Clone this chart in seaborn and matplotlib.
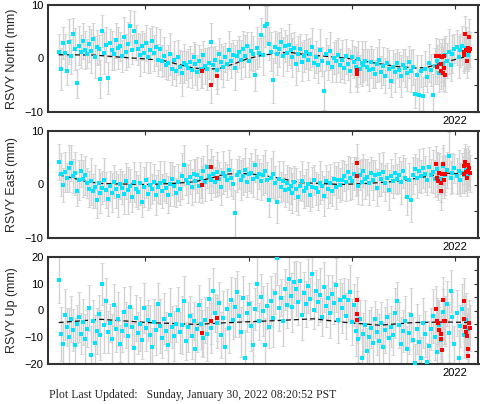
import numpy as np
import pandas as pd
import matplotlib
matplotlib.use("Agg")
import matplotlib.pyplot as plt
import seaborn as sns

# weekly solutions for station RSVY
dates = pd.date_range("2018-03-01", periods=208, freq="7D")

north = [1.2, -1.9, 2.9, 1.0, -2.3, 3.1, 0.4, 4.6, 1.8, -4.6, 2.4, 1.3, 3.3,
         1.6, 0.9, 2.7, 1.4, 3.6, 0.3, 2.1, 1.7, -3.8, 5.2, 1.0, 2.6, -3.6,
         2.9, 1.5, 0.8, 3.4, 1.9, 2.3, 0.5, 4.1, 1.2, 2.7, 6.1, 1.6, 5.2,
         3.0, 1.8, 0.6, 2.4, 1.1, 2.9, 0.2, 1.5, 3.3, 1.0, 2.2, -0.3, 1.7,
         -0.5, 0.4, -1.2, -0.8, 0.9, -1.9, -0.3, -2.4, 0.2, -1.5, -2.8, -0.9, -1.3,
         -1.8, -0.6, -2.2, 0.3, -1.1, -2.6, -0.4, -1.9, 0.6, -1.4, -2.0, -0.8, 3.0,
         -1.2, -0.3, -2.1, 0.8, -0.6, -1.5, 0.2, -1.0, 1.6, -0.4, 0.7, -1.7, 0.4,
         1.2, -0.2, 1.8, 0.5, 2.3, -0.5, 1.4, 0.9, -3.1, 2.0, 1.1, 4.3, 0.6,
         6.0, 6.5, 2.8, 1.3, -4.1, 2.1, 0.8, 1.7, 3.0, 0.4, 2.4, 1.0, 2.6,
         1.5, 0.2, 2.0, -1.1, 0.9, 1.8, -0.6, 0.5, 1.3, -0.2, 0.8, 2.1, -0.9,
         0.3, -1.2, 1.6, -0.5, -6.0, 0.9, -0.8, 1.4, -1.6, 0.1, -0.4, 0.6, -1.3,
         -0.2, -1.8, 0.4, -1.0, -2.4, 0.2, -0.7, -1.5, -0.1, -2.0, -0.9, -1.3, -0.4,
         -1.6, -2.2, -0.6, -1.9, -2.9, -1.1, -0.3, -2.5, -1.4, -3.2, -0.8, -2.0, -4.2,
         -1.5, -2.6, -0.9, -2.1, -3.3, -1.2, -1.8, -2.8, -0.7, -2.3, -1.6, -6.6, -3.0,
         -6.8, -2.4, -7.0, -1.9, -3.5, -0.8, -2.2, -6.8, -1.4, -0.5, -2.7, 0.2, -1.1,
         0.6, -0.4, 1.3, -1.2, 0.8, 1.8, 2.1, 0.3, 1.5, 2.4, 1.0, 1.9, 0.7]

east = [4.2, 1.9, -0.1, 2.4, 1.3, 3.0, 4.0, 1.6, 2.1, -1.3, 0.8, 2.6, 1.1,
        1.7, 0.3, -0.8, 0.6, -1.2, -0.4, -2.9, 0.2, -1.6, -0.6, 0.9, -1.0, -2.8,
        -0.3, -1.5, 0.5, -0.9, -2.1, 0.1, -0.6, -1.8, 0.7, -1.1, -0.2, -2.3, 0.4,
        -0.8, -1.4, 0.2, -3.2, -0.5, 0.8, -1.7, -0.1, -0.9, 0.5, -2.0, -0.4, 0.3,
        -1.2, 0.6, -0.7, -1.9, 0.1, 1.1, -0.3, -1.5, 0.4, -0.8, 1.6, 3.6, 0.9,
        0.2, 1.4, -0.5, 2.0, 0.7, 1.8, -0.2, 1.2, 2.5, 0.4, 3.3, 1.6, 0.9,
        1.9, 0.5, 2.4, 1.1, -0.4, 2.2, 1.5, 0.8, 2.8, 1.3, 0.1, -5.4, 1.7,
        2.3, 0.9, 1.5, 2.7, 0.4, 1.9, 2.2, 1.0, 3.6, 1.4, 2.0, 0.6, 1.8,
        2.5, 0.8, -2.9, 1.2, 1.9, 0.3, -3.2, 1.0, -0.5, 0.6, -1.1, 0.2, -0.8,
        -0.3, -1.6, 0.4, -0.9, -2.3, -0.2, 0.7, -1.3, -0.6, 0.1, -1.9, -0.4, 0.9,
        -0.7, -1.4, 0.3, -0.2, -2.2, 0.6, -0.9, 0.2, -1.2, 1.1, -0.5, 0.8, -0.1,
        0.9, 1.6, 0.4, 2.3, 1.2, 0.7, 2.0, 1.5, -0.3, 1.8, 0.5, 2.6, 1.1,
        1.4, 0.2, 2.1, 0.8, 1.7, -0.6, 1.9, 1.0, 2.4, 0.3, 1.3, -1.1, 1.6,
        0.6, 2.2, 1.1, 1.8, 0.4, 2.5, 1.3, -2.3, 0.9, -2.9, 1.7, 2.9, 1.2,
        2.6, 1.5, 3.1, 2.0, 0.8, 3.3, 1.7, 2.4, 1.1, 2.9, 2.2, 1.0, 3.4,
        1.8, 2.7, 5.4, 1.3, 2.1, 3.0, 1.6, 2.5, 0.9, 2.2, 1.8, 2.8, 2.0]

up = [11.3, -8.9, -12.6, -1.5, -6.2, -9.8, -3.1, -7.4, -13.0, -5.0, -2.4, -8.6, -4.3,
      -10.5, -6.8, 0.8, -16.8, -3.9, -12.0, -7.5, -1.2, -9.3, 9.8, -5.6, 3.4, -8.1,
      -4.6, -10.8, 2.1, -6.9, -3.2, -12.4, -7.8, -0.5, -5.3, -9.6, 1.4, -6.0, -14.1,
      -2.8, -8.4, -5.1, -11.2, 0.9, -6.6, -3.7, -9.0, -13.6, -4.4, -7.2, 2.6, -5.8,
      -10.1, -3.0, -7.7, -12.9, -1.8, -6.3, -9.4, -4.9, 0.3, -8.2, -5.5, 3.5, -11.5,
      -6.1, -2.2, -9.7, -4.0, -14.4, -7.0, 1.9, -5.2, -10.3, -3.4, -8.8, 4.2, -6.7,
      7.3, -1.0, -4.8, 2.8, -9.1, -2.9, -13.5, 0.4, -6.4, 3.9, -3.6, 1.2, 7.0,
      -2.0, -7.9, 4.5, -17.6, -1.1, 2.3, -5.9, -12.8, 0.6, 10.0, -4.1, 5.1, -0.3,
      -13.0, 1.8, -6.2, 3.6, -2.7, 6.4, 19.8, 0.9, 4.8, -3.8, 7.9, 2.2, 11.6,
      5.4, 1.3, 10.5, 8.2, 3.0, 11.0, -1.6, 6.7, 2.4, 9.1, 4.3, 13.5, 0.2,
      7.4, 3.1, 5.8, -2.5, 8.8, 1.6, 4.6, -0.9, 6.1, 2.7, 9.5, -3.4, 3.9,
      1.1, 5.2, -1.9, 4.0, 6.8, -4.2, 2.0, -7.5, -10.6, -3.1, -17.8, -8.7, -5.6,
      -15.0, -9.9, -6.4, -12.2, -3.3, -8.1, -11.4, -4.7, -13.8, -7.3, -2.6, -10.2, -6.0,
      -9.0, -0.8, 3.5, -5.4, -12.6, -7.7, -3.9, -14.5, -8.5, -1.7, -10.9, -19.7, -6.8,
      -11.8, -17.6, -4.6, -8.9, -19.2, -13.1, -6.9, -2.1, -9.8, -15.7, -5.3, -11.0, -0.6,
      -4.0, 2.6, -8.4, 7.3, -2.3, -12.7, -0.8, -17.6, -5.7, 0.5, -9.2, -3.5, -7.0]

# relative formal error of each weekly solution
rel_err = [1.1, 1.3, 1.0, 1.2, 0.9, 1.4, 1.1, 1.0, 1.3, 0.9, 1.2, 1.0, 1.1,
           1.2, 0.9, 1.1, 1.4, 1.0, 1.3, 1.1, 0.9, 1.2, 1.0, 1.3, 1.1, 1.0,
           0.9, 1.2, 1.0, 1.1, 1.3, 0.9, 1.0, 1.2, 1.1, 1.4, 1.0, 0.9, 1.2,
           1.1, 1.0, 1.3, 0.9, 1.2, 1.1, 1.0, 1.4, 0.9, 1.1, 1.2, 1.0, 1.3,
           1.0, 1.2, 0.9, 1.1, 1.3, 1.0, 1.2, 0.9, 1.1, 1.0, 1.4, 1.2, 0.9,
           1.2, 1.0, 1.1, 0.9, 1.3, 1.1, 1.0, 1.2, 0.9, 1.1, 1.3, 1.0, 1.2,
           1.1, 0.9, 1.2, 1.0, 1.1, 1.3, 0.9, 1.0, 1.2, 1.1, 0.9, 1.4, 1.0,
           1.0, 1.2, 1.1, 1.3, 0.9, 1.0, 1.2, 1.1, 1.0, 1.3, 0.9, 1.1, 1.2,
           1.3, 1.1, 1.0, 1.2, 1.4, 1.0, 1.3, 1.1, 0.9, 1.2, 1.0, 1.1, 1.3,
           1.1, 1.2, 1.0, 1.3, 1.1, 0.9, 1.2, 1.0, 1.1, 1.3, 1.0, 1.2, 0.9,
           1.0, 1.1, 1.3, 0.9, 1.2, 1.0, 1.1, 1.2, 0.9, 1.0, 1.3, 1.1, 1.0,
           1.2, 0.9, 1.1, 1.0, 1.3, 1.1, 1.0, 1.2, 1.1, 0.9, 1.4, 1.0, 1.2,
           1.1, 1.3, 1.0, 1.2, 0.9, 1.1, 1.3, 1.0, 1.2, 1.1, 0.9, 1.2, 1.0,
           1.0, 1.2, 0.9, 1.1, 1.3, 1.0, 1.2, 1.1, 1.0, 1.3, 1.1, 0.9, 1.2,
           1.3, 1.0, 1.2, 1.1, 0.9, 1.2, 1.0, 1.3, 1.1, 1.0, 1.2, 0.9, 1.1,
           1.2, 1.1, 1.4, 1.0, 1.2, 0.9, 1.1, 1.3, 1.0, 1.2, 1.1, 1.3, 1.0]

sig_north, sig_east, sig_up = 3.0, 3.1, 7.8

# rapid solutions (red)
red_t_north = [2019.55, 2019.64, 2019.69, 2021.05, 2021.05,
               2021.82, 2021.83, 2021.845, 2021.86, 2021.865, 2021.875, 2021.88, 2021.89, 2021.895, 2021.90,
               2022.085, 2022.09, 2022.10, 2022.11, 2022.12, 2022.125, 2022.135, 2022.14, 2022.145]
red_north = [-2.3, -5.0, -3.3, -2.1, -2.9,
             0.5, -1.5, 0.4, -2.4, -1.1, 0.3, -2.8, -1.8, 0.5, -3.0,
             1.2, 0.6, 4.6, 1.6, -0.4, 1.9, 1.4, 4.0, 1.7]
red_t_east = [2019.55, 2019.64, 2019.69, 2021.05, 2021.05,
              2021.82, 2021.83, 2021.84, 2021.85, 2021.86, 2021.865, 2021.875, 2021.885, 2021.89, 2021.90,
              2022.085, 2022.09, 2022.10, 2022.11, 2022.115, 2022.125, 2022.13, 2022.14, 2022.145]
red_east = [0.0, 3.2, 1.2, 4.1, 1.5,
            3.8, 1.2, 0.6, 2.2, 0.2, -1.3, 1.9, 3.9, 0.9, 2.0,
            1.9, 3.5, 4.2, 2.3, 1.2, 3.7, 2.6, 3.0, 2.1]
red_t_up = [2019.55, 2019.64, 2019.69, 2021.05, 2021.05, 2021.05,
            2021.82, 2021.83, 2021.84, 2021.85, 2021.86, 2021.865, 2021.875, 2021.885, 2021.89, 2021.90,
            2022.085, 2022.09, 2022.10, 2022.11, 2022.115, 2022.125, 2022.13, 2022.14, 2022.145]
red_up = [-8.3, -3.9, -2.9, 3.8, -1.4, -3.7,
          0.4, -3.9, -4.5, -7.3, -8.7, -10.5, -14.9, 3.8, -3.9, -4.1,
          3.5, -3.3, -6.2, -8.0, -9.5, -14.3, -17.0, -4.5, -6.4]

# model fit (trend + seasonal)
model_t_north = [2018.16, 2018.50, 2018.79, 2019.02, 2019.18, 2019.34, 2019.47, 2019.63, 2019.73,
                 2019.86, 2019.98, 2020.11, 2020.27, 2020.40, 2020.56, 2020.79, 2021.02, 2021.21,
                 2021.44, 2021.63, 2021.73, 2021.86, 2022.02, 2022.13]
model_north = [0.7, 0.65, 0.2, -0.1, -0.4, -1.2, -1.8, -2.0, -1.8,
               -1.0, -0.1, 0.5, 1.0, 1.15, 0.7, 0.35, -0.1, -0.8,
               -1.5, -1.8, -1.65, -0.9, -0.1, 0.5]
model_t_east = [2018.16, 2018.31, 2018.44, 2018.57, 2018.76, 2019.02, 2019.27, 2019.47, 2019.63,
                2019.76, 2019.92, 2020.11, 2020.31, 2020.50, 2020.69, 2020.89, 2021.15, 2021.37,
                2021.53, 2021.76, 2021.92, 2022.14]
model_east = [1.8, 1.15, 0.5, 0.2, 0.1, 0.0, 0.2, 0.5, 1.15,
              1.9, 2.1, 1.8, 1.15, 0.35, 0.2, 0.0, 0.2, 0.5,
              0.85, 1.6, 2.1, 1.9]
model_t_up = [2018.16, 2018.57, 2019.02, 2019.50, 2019.82, 2020.31, 2020.63, 2020.95, 2021.27,
              2021.60, 2021.92, 2022.14]
model_up = [-4.5, -3.3, -4.5, -5.2, -4.5, -3.7, -3.1, -4.5, -5.5, -4.5, -4.3, -4.5]

year_ticks = [2019, 2020, 2021, 2022]
year_labels = ["", "", "", "2022"]

t = dates.year + (dates.dayofyear - 0.5) / 365.25
rel = np.array(rel_err)

sns.set_style("white")
plt.rcParams["font.family"] = ["Liberation Sans", "DejaVu Sans"]
plt.rcParams["axes.unicode_minus"] = True

fig = plt.figure(figsize=(4.81, 4.04), dpi=100)
frame = "#333333"
cyan = "#00e5ff"
bar_gray = "#d2d2d2"


def draw_panel(ax, label, vals, sig, red_t, red_v, mt, mv, lim, major, minor):
    ax.errorbar(t, vals, yerr=sig * rel, fmt="none", ecolor=bar_gray,
                elinewidth=1.0, capsize=1.3, capthick=0.6, zorder=1)
    ax.errorbar(red_t, red_v, yerr=sig * 1.1, fmt="none", ecolor=bar_gray,
                elinewidth=1.0, capsize=1.3, capthick=0.6, zorder=1)
    sns.lineplot(x=mt, y=mv, ax=ax, color="#111111", linewidth=0.9,
                 linestyle=(0, (4, 2.5)), zorder=2)
    sns.scatterplot(x=t, y=vals, ax=ax, color=cyan, marker="s", s=5.5,
                    linewidth=0, zorder=3)
    sns.scatterplot(x=red_t, y=red_v, ax=ax, color="#ff0000", marker="s", s=5.5,
                    linewidth=0, zorder=4)
    ax.set_xlim(2018.052, 2022.228)
    ax.set_ylim(-lim, lim)
    ax.set_xticks(year_ticks)
    ax.set_xticklabels(year_labels)
    ax.set_yticks(major)
    ax.set_yticks(minor, minor=True)
    ax.tick_params(which="both", direction="in", length=3, width=0.8,
                   color=frame, top=True, right=True, labelsize=8,
                   labelcolor="black", pad=3)
    for sp in ax.spines.values():
        sp.set_color(frame)
        sp.set_linewidth(1.5)
    ax.set_xlabel("")
    ax.set_ylabel(label, fontsize=9)
    ax.yaxis.set_label_coords(-0.068, 0.5)


left, width, height = 47.5 / 481, 431 / 481, 107 / 404
bottoms = [1 - 112 / 404, 1 - 238 / 404, 1 - 364 / 404]

ax1 = fig.add_axes([left, bottoms[0], width, height])
draw_panel(ax1, "RSVY North (mm)", north, sig_north, red_t_north, red_north,
           model_t_north, model_north, 10, [-10, 0, 10], [-5, 5])
ax2 = fig.add_axes([left, bottoms[1], width, height])
draw_panel(ax2, "RSVY East (mm)", east, sig_east, red_t_east, red_east,
           model_t_east, model_east, 10, [-10, 0, 10], [-5, 5])
ax3 = fig.add_axes([left, bottoms[2], width, height])
draw_panel(ax3, "RSVY Up (mm)", up, sig_up, red_t_up, red_up,
           model_t_up, model_up, 20, [-20, -10, 0, 10, 20], [-15, -5, 5, 15])

fig.text(49 / 481, 9 / 404, "Plot Last Updated:   Sunday, January 30, 2022 08:20:52 PST",
         family=["Liberation Serif", "DejaVu Serif"], fontsize=8.5, va="center", ha="left")

fig.savefig("out.png", dpi=100)
